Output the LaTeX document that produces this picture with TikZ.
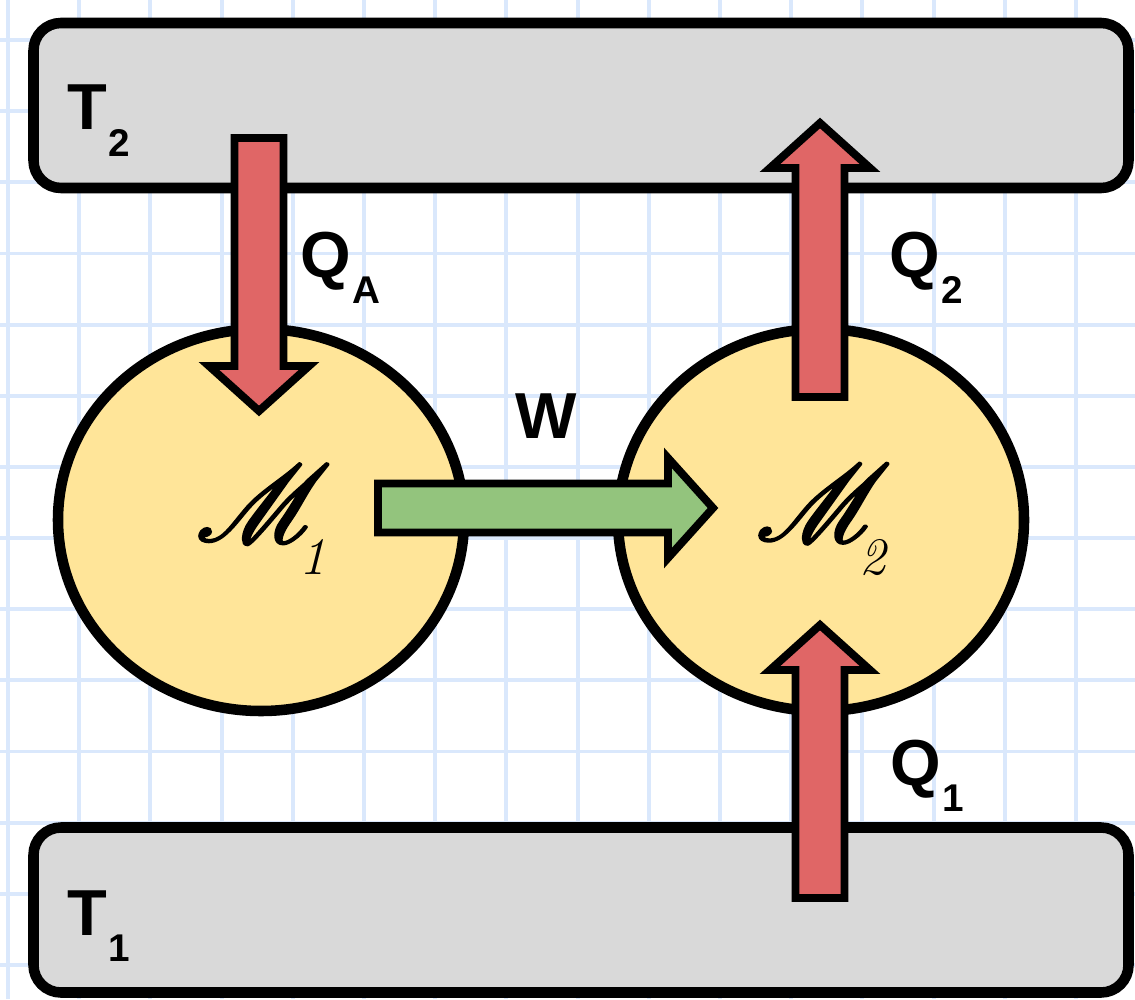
\documentclass[tikz,border=0pt]{standalone}
\usepackage{fontspec}
\setmainfont{Liberation Sans}
\usetikzlibrary{positioning, calc, shapes.geometric}

\definecolor{gridblue}{RGB}{218,232,252}
\definecolor{barfill}{RGB}{217,217,217}
\definecolor{machfill}{RGB}{255,229,153}
\definecolor{heatred}{RGB}{224,102,102}
\definecolor{workgreen}{RGB}{147,196,125}

% formal script M at any size
\DeclareFontFamily{U}{scrM}{}
\DeclareFontShape{U}{scrM}{m}{n}{<-> rsfs10}{}

% subscript set low, as in the sketch
\newcommand{\lowsub}[1]{\kern1pt\raisebox{-15pt}{\fontsize{22}{22}\selectfont\bfseries #1}}

% script M, stroked a little heavier, with its index
\newcommand{\machlabel}[1]{%
  {\fontsize{62}{62}\usefont{U}{scrM}{m}{n}%
   \special{pdf:literal 2 Tr 1.1 w}M\special{pdf:literal 0 Tr}}\kern-8pt%
  \raisebox{-19pt}{\fontsize{30}{30}\fontfamily{lmr}\fontshape{it}\selectfont #1}}

% block arrow sizes
\newcommand{\shafthalf}{0.49cm}
\newcommand{\headhalf}{1.0cm}
\newcommand{\headlen}{0.9cm}

% block arrow from tail to tip: #1 fill, #2 tail, #3 tip
\newcommand{\blockflow}[3]{%
  \path let \p1=($(#3)-(#2)$) in
    \pgfextra{%
      \pgfmathsetmacro{\flowang}{atan2(\y1,\x1)}%
      \pgfmathsetmacro{\flowlen}{veclen(\x1,\y1)}%
      \global\let\flowang\flowang
      \global\let\flowlen\flowlen};
  \draw[flow, fill=#1, shift={(#2)}, rotate=\flowang]
    (0pt,-\shafthalf) -- ({\flowlen pt-\headlen},-\shafthalf)
    -- ({\flowlen pt-\headlen},-\headhalf) -- (\flowlen pt,0pt)
    -- ({\flowlen pt-\headlen},\headhalf)
    -- ({\flowlen pt-\headlen},\shafthalf)
    -- (0pt,\shafthalf) -- cycle;
}

\begin{document}
\begin{tikzpicture}[
    reservoir/.style={
        rectangle, draw, line width=6pt, rounded corners=0.55cm,
        fill=barfill, minimum width=21.9cm, minimum height=3.3cm
    },
    machine/.style={
        ellipse, draw, line width=6pt, fill=machfill, inner sep=0pt,
        minimum width=8.12cm, minimum height=7.64cm
    },
    flow/.style={draw, line width=4.5pt, line join=miter},
    lbl/.style={
        anchor=base west, inner sep=0pt,
        font=\fontsize{37}{40}\selectfont\bfseries
    },
    gridline/.style={draw=gridblue, line width=2.2pt}
]

\useasboundingbox (0,0) rectangle (22.7,-19.98);
\fill[white] (0,0) rectangle (22.7,-19.98);

%% ─── GRID PAPER ─────────────────────────────────────────────────────────

\foreach \i in {0,...,15}
    \draw[gridline] ({0.16+1.424*\i},0) -- ({0.16+1.424*\i},-19.98);
\foreach \j in {0,...,13}
    \draw[gridline] (0,{-0.8-1.423*\j}) -- (22.7,{-0.8-1.423*\j});

%% ─── RESERVOIRS ─────────────────────────────────────────────────────────

\node[reservoir] (hot)  at (11.62,-2.11) {};
\node[reservoir] (cold) at (11.62,-18.2) {};

%% ─── MACHINES ───────────────────────────────────────────────────────────

\node[machine] (m1) at (5.22,-10.4)  {\machlabel{1}};
\node[machine] (m2) at (16.42,-10.4) {\machlabel{2}};

%% ─── ARROW ENDS ─────────────────────────────────────────────────────────

\coordinate (qa-tail) at (5.18,-2.76);
\coordinate (qa-tip)  at (5.18,-8.22);
\coordinate (q2-tail) at (16.4,-7.94);
\coordinate (q2-tip)  at (16.4,-2.46);
\coordinate (q1-tail) at (16.4,-17.96);
\coordinate (q1-tip)  at (16.4,-12.5);
\coordinate (w-tail)  at (7.56,-10.16);
\coordinate (w-tip)   at (14.26,-10.16);

%% ─── HEAT AND WORK ARROWS ───────────────────────────────────────────────

\blockflow{heatred}{qa-tail}{qa-tip}
\blockflow{heatred}{q2-tail}{q2-tip}
\blockflow{heatred}{q1-tail}{q1-tip}
\blockflow{workgreen}{w-tail}{w-tip}

%% ─── LABELS ─────────────────────────────────────────────────────────────

\node[lbl] (t2lbl) at (1.34,-2.6)   {T\lowsub{2}};
\node[lbl] (qalbl) at (6.0,-5.54)   {Q\lowsub{A}};
\node[lbl] (wlbl)  at (10.3,-8.76)  {W};
\node[lbl] (q2lbl) at (17.78,-5.54) {Q\lowsub{2}};
\node[lbl] (q1lbl) at (17.8,-15.7)  {Q\lowsub{1}};
\node[lbl] (t1lbl) at (1.34,-18.7)  {T\lowsub{1}};

\end{tikzpicture}
\end{document}
